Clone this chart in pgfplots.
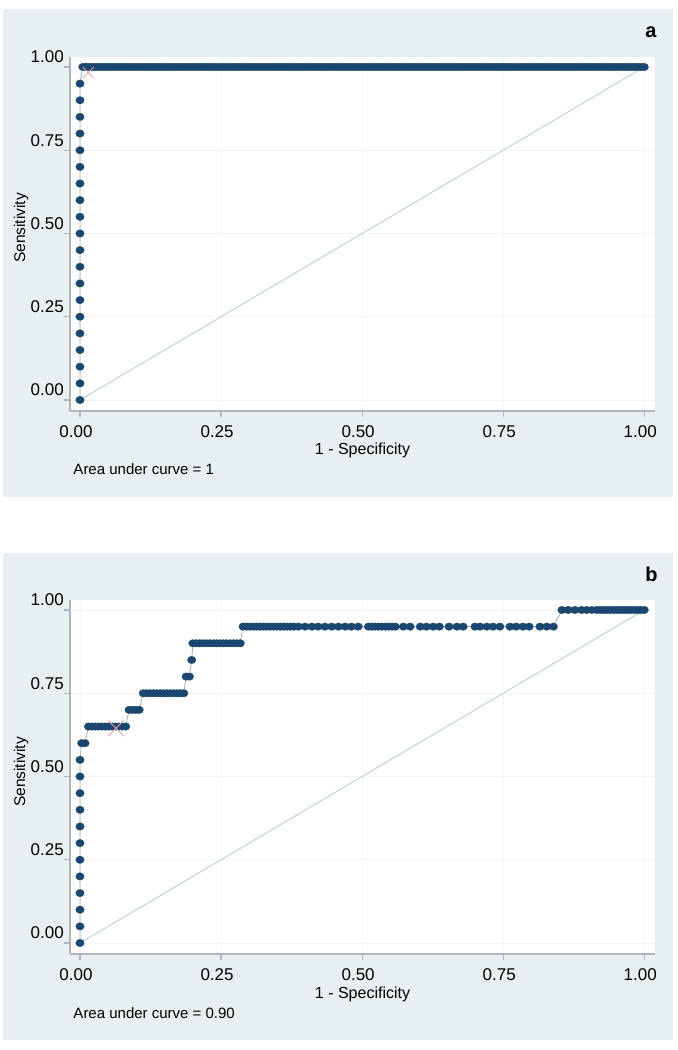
\documentclass[border=0pt]{standalone}
\usepackage{fontspec}
\setmainfont{Liberation Sans}
\usepackage{pgfplots}
\pgfplotsset{compat=1.18}
\definecolor{bgc}{RGB}{232,239,241}
\definecolor{navy}{RGB}{26,71,111}
\definecolor{conn}{RGB}{160,176,192}
\definecolor{diag}{RGB}{185,212,203}
\definecolor{axg}{RGB}{172,182,188}
\definecolor{gridc}{RGB}{241,245,246}
\definecolor{xred}{RGB}{245,160,160}
\pgfplotsset{rocstyle/.style={
  scale only axis, width=585bp, height=354bp,
  xmin=-0.0177, xmax=1.019, ymin=-0.033, ymax=1.030,
  axis lines*=left, axis line style={axg, line width=1.2bp},
  tick align=outside, major tick length=6bp, tick style={axg, line width=1.2bp},
  xtick={0,0.25,0.5,0.75,1}, ytick={0,0.25,0.5,0.75,1},
  grid=major, grid style={gridc, line width=0.8bp},
  axis background/.style={fill=white},
  /pgf/number format/.cd, fixed, fixed zerofill, precision=2, assume math mode=true,
  /pgfplots/.cd,
  ticklabel style={font=\fontsize{17bp}{20bp}\selectfont, inner sep=0pt},
  xticklabel style={xshift=-4bp, yshift=-8bp},
  yticklabel style={yshift=10bp},
  roc/.style={conn, line width=0.8bp, mark=*, mark size=3.8bp,
    mark options={fill=navy, draw=navy, line width=0.2bp, xscale=1.12}},
}}
\begin{document}
\begin{tikzpicture}[x=1bp,y=1bp]
\path[use as bounding box] (0,0) rectangle (678,1050);
\fill[bgc] (3,553) rectangle (673,1041);
\fill[bgc] (3,10) rectangle (673,497);
% ---------------- panel a
\begin{axis}[rocstyle, at={(70bp,639bp)}, anchor=south west]
\addplot[diag, line width=0.9bp] coordinates {(0,0) (1,1)};
\addplot[roc] coordinates {
(0,0) (0,0.05) (0,0.10) (0,0.15) (0,0.20) (0,0.25) (0,0.30) (0,0.35) (0,0.40) (0,0.45)
(0,0.50) (0,0.55) (0,0.60) (0,0.65) (0,0.70) (0,0.75) (0,0.80) (0,0.85) (0,0.90) (0,0.95)
(0.005,1) (0.010,1) (0.015,1) (0.020,1) (0.025,1) (0.030,1) (0.035,1) (0.040,1) (0.045,1) (0.050,1)
(0.055,1) (0.060,1) (0.065,1) (0.070,1) (0.075,1) (0.080,1) (0.085,1) (0.090,1) (0.095,1) (0.100,1)
(0.105,1) (0.110,1) (0.115,1) (0.120,1) (0.125,1) (0.130,1) (0.135,1) (0.140,1) (0.145,1) (0.150,1)
(0.155,1) (0.160,1) (0.165,1) (0.170,1) (0.175,1) (0.180,1) (0.185,1) (0.190,1) (0.195,1) (0.200,1)
(0.205,1) (0.210,1) (0.215,1) (0.220,1) (0.225,1) (0.230,1) (0.235,1) (0.240,1) (0.245,1) (0.250,1)
(0.255,1) (0.260,1) (0.265,1) (0.270,1) (0.275,1) (0.280,1) (0.285,1) (0.290,1) (0.295,1) (0.300,1)
(0.305,1) (0.310,1) (0.315,1) (0.320,1) (0.325,1) (0.330,1) (0.335,1) (0.340,1) (0.345,1) (0.350,1)
(0.355,1) (0.360,1) (0.365,1) (0.370,1) (0.375,1) (0.380,1) (0.385,1) (0.390,1) (0.395,1) (0.400,1)
(0.405,1) (0.410,1) (0.415,1) (0.420,1) (0.425,1) (0.430,1) (0.435,1) (0.440,1) (0.445,1) (0.450,1)
(0.455,1) (0.460,1) (0.465,1) (0.470,1) (0.475,1) (0.480,1) (0.485,1) (0.490,1) (0.495,1) (0.500,1)
(0.505,1) (0.510,1) (0.515,1) (0.520,1) (0.525,1) (0.530,1) (0.535,1) (0.540,1) (0.545,1) (0.550,1)
(0.555,1) (0.560,1) (0.565,1) (0.570,1) (0.575,1) (0.580,1) (0.585,1) (0.590,1) (0.595,1) (0.600,1)
(0.605,1) (0.610,1) (0.615,1) (0.620,1) (0.625,1) (0.630,1) (0.635,1) (0.640,1) (0.645,1) (0.650,1)
(0.655,1) (0.660,1) (0.665,1) (0.670,1) (0.675,1) (0.680,1) (0.685,1) (0.690,1) (0.695,1) (0.700,1)
(0.705,1) (0.710,1) (0.715,1) (0.720,1) (0.725,1) (0.730,1) (0.735,1) (0.740,1) (0.745,1) (0.750,1)
(0.755,1) (0.760,1) (0.765,1) (0.770,1) (0.775,1) (0.780,1) (0.785,1) (0.790,1) (0.795,1) (0.800,1)
(0.805,1) (0.810,1) (0.815,1) (0.820,1) (0.825,1) (0.830,1) (0.835,1) (0.840,1) (0.845,1) (0.850,1)
(0.855,1) (0.860,1) (0.865,1) (0.870,1) (0.875,1) (0.880,1) (0.885,1) (0.890,1) (0.895,1) (0.900,1)
(0.905,1) (0.910,1) (0.915,1) (0.920,1) (0.925,1) (0.930,1) (0.935,1) (0.940,1) (0.945,1) (0.950,1)
(0.955,1) (0.960,1) (0.965,1) (0.970,1) (0.975,1) (0.980,1) (0.985,1) (0.990,1) (0.995,1) (1.000,1)
};
\addplot[only marks, mark=x, mark size=8bp, mark options={xred, line width=0.8bp}] coordinates {(0.0147,0.983)};
\end{axis}
\node[font=\fontsize{20bp}{24bp}\selectfont\bfseries] at (651,1018) {a};
\node[rotate=90, anchor=base, font=\fontsize{15.5bp}{18bp}\selectfont] at (25,822) {Sensitivity};
\node[anchor=base, font=\fontsize{16bp}{19bp}\selectfont] at (362.5,595.5) {1 - Specificity};
\node[anchor=base west, inner sep=0pt, font=\fontsize{15bp}{18bp}\selectfont] at (73.3,575) {Area under curve = 1};
% ---------------- panel b
\begin{axis}[rocstyle, at={(70bp,96bp)}, anchor=south west]
\addplot[diag, line width=0.9bp] coordinates {(0,0) (1,1)};
\addplot[roc] coordinates {
(0,0) (0,0.05) (0,0.10) (0,0.15) (0,0.20) (0,0.25) (0,0.30) (0,0.35) (0,0.40) (0,0.45) (0,0.50) (0,0.55)
(0.003,0.60) (0.009,0.60)
(0.015,0.65) (0.021,0.65) (0.027,0.65) (0.033,0.65) (0.039,0.65) (0.045,0.65) (0.051,0.65) (0.057,0.65) (0.063,0.65) (0.069,0.65) (0.075,0.65) (0.081,0.65)
(0.087,0.70) (0.093,0.70) (0.099,0.70) (0.105,0.70)
(0.112,0.75) (0.118,0.75) (0.124,0.75) (0.130,0.75) (0.136,0.75) (0.142,0.75) (0.148,0.75) (0.154,0.75) (0.160,0.75) (0.166,0.75) (0.172,0.75) (0.178,0.75) (0.184,0.75)
(0.188,0.80) (0.194,0.80)
(0.198,0.85)
(0.200,0.90) (0.206,0.90) (0.212,0.90) (0.218,0.90) (0.224,0.90) (0.230,0.90) (0.236,0.90) (0.242,0.90) (0.248,0.90) (0.254,0.90) (0.260,0.90) (0.266,0.90) (0.272,0.90) (0.278,0.90) (0.284,0.90)
(0.289,0.95) (0.295,0.95) (0.301,0.95) (0.307,0.95) (0.313,0.95) (0.319,0.95) (0.325,0.95) (0.331,0.95) (0.337,0.95) (0.343,0.95) (0.349,0.95) (0.355,0.95) (0.361,0.95) (0.367,0.95) (0.373,0.95) (0.379,0.95)
(0.387,0.95) (0.399,0.95) (0.411,0.95) (0.422,0.95) (0.434,0.95) (0.446,0.95) (0.458,0.95) (0.470,0.95) (0.481,0.95) (0.493,0.95)
(0.511,0.95) (0.517,0.95) (0.523,0.95) (0.529,0.95) (0.535,0.95) (0.541,0.95) (0.547,0.95) (0.553,0.95) (0.559,0.95)
(0.573,0.95) (0.585,0.95) (0.603,0.95) (0.614,0.95) (0.626,0.95) (0.637,0.95) (0.654,0.95) (0.668,0.95) (0.679,0.95)
(0.700,0.95) (0.709,0.95) (0.721,0.95) (0.732,0.95) (0.744,0.95) (0.762,0.95) (0.773,0.95) (0.785,0.95) (0.796,0.95)
(0.815,0.95) (0.827,0.95) (0.839,0.95)
(0.854,1) (0.865,1) (0.877,1) (0.889,1) (0.898,1) (0.907,1) (0.916,1) (0.922,1) (0.928,1) (0.934,1) (0.940,1)
(0.946,1) (0.952,1) (0.958,1) (0.964,1) (0.970,1) (0.976,1) (0.982,1) (0.988,1) (0.994,1) (1.000,1)
};
\addplot[only marks, mark=x, mark size=11bp, mark options={xred, line width=0.8bp}] coordinates {(0.0638,0.645)};
\end{axis}
\node[font=\fontsize{20bp}{24bp}\selectfont\bfseries] at (651.5,476) {b};
\node[rotate=90, anchor=base, font=\fontsize{15.5bp}{18bp}\selectfont] at (25,278) {Sensitivity};
\node[anchor=base, font=\fontsize{16bp}{19bp}\selectfont] at (362.5,51.5) {1 - Specificity};
\node[anchor=base west, inner sep=0pt, font=\fontsize{15bp}{18bp}\selectfont] at (73.3,31) {Area under curve = 0.90};
\end{tikzpicture}
\end{document}
